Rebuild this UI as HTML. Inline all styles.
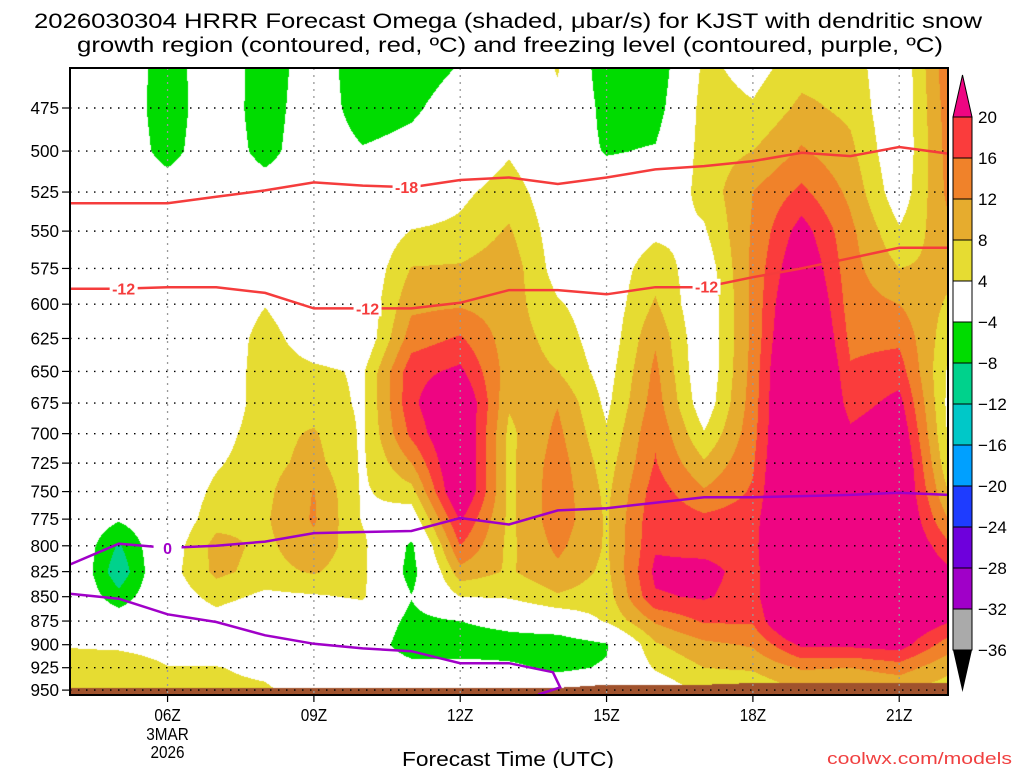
<!DOCTYPE html>
<html><head><meta charset="utf-8"><style>
html,body{margin:0;padding:0;background:#fff;width:1024px;height:768px;overflow:hidden}
#wrap{position:relative;width:1024px;height:768px}
canvas{position:absolute;left:0;top:0}
svg{position:absolute;left:0;top:0}
text{font-family:"Liberation Sans",sans-serif}
</style></head><body>
<div id="wrap">
<canvas id="cv" width="1024" height="768"></canvas>
<svg id="sv" width="1024" height="768"></svg>
</div>
<script>
// ---------- data ----------
const hours = [4,5,6,7,8,9,10,11,12,13,14,15,16,17,18,19,20,21,22];
const levels = [450,475,500,525,550,575,600,625,650,675,700,725,750,775,800,825,850,875,900,925,950];
const w04 = [0,0,0,0,0,0,0,0,0,0,0,0,0,0,1,2,1,0,3.5,7,6];
const w05 = [2,0,0,0,0,0,0,0,0,0,0,0,0,-3.5,-8.5,-11,-6.5,-1,3,7,6];
const w06 = [-8,-7,-6,-1,0,0,0,0,0,0,0,0,0,0,1,2,1,0,2,4.2,6];
const w07 = [2,0,0,0,0,0,0,0,0,0,2,3.5,5,6.5,9.5,9,5.5,2,1,4.2,5];
const w08 = [-8,-7,-6,-1,0,0,3.8,6,6.5,6.5,6.5,6.5,7,7.5,7,6.5,3,0,0,3,4.6];
const w09 = [0,0,0,0,0,0,0,1,5,6,8.5,9.5,12.2,12.5,11,8.5,3.5,0,0,0,2];
const w10 = [-8,-7,-3.5,0,0,0,0,0,3.4,3.4,3.4,3.4,3.4,3.6,5,5,4.5,1,0,0,0];
const w11 = [-7,-5,-2,0,4.2,8.2,11,14,18.5,19,17,12,6.5,1,-5,-6,-3.8,-5.5,-7,-2,0];
const w12 = [-4,-1,0,3,5,8.5,11.5,16.5,21,26,26,26,26,20.5,16,10.5,4,-4,-7,-2,0];
const w13 = [0,0,3.5,6,8.5,10.5,10,10,10,8.5,7,7,7,7,7,7.5,4.5,-2,-6.5,-3,0];
const w14 = [4.5,3,0,1,1.5,2,4.5,6.5,8,11.8,13,14,14.5,14.5,13,11,7.5,0,-7,-5,0];
const w15 = [-8,-6,-4.5,0,0.5,1,1,1,2,3,4.5,6,7,7.5,7.5,7,6,4.5,-4.5,-3.5,0];
const w16 = [-8,-6.5,-3.5,0,3,6.5,8.5,11.5,13,14,15.5,16.3,18,19,19.5,21,19.5,12.5,7.5,4.5,1];
const w17 = [5,6,6,5.5,3.5,1,0,0,0,1,4.3,8.5,12.5,17,18.5,21.5,20.5,16.5,11,8,5];
const w18 = [2,4.5,8,12,12.5,13,13,13,13.5,14,14.5,15.5,16.5,18,18.5,18,18,16.5,12.5,8.5,5];
const w19 = [6,9,12.5,17,22,25,28,30,32,32,32,32,32,32,32,32,32,30,21,12.5,8];
const w20 = [6,7,9,11,13,13.5,14,15,16.5,18,21,26,27,27,27,27,27,25,21,12,7];
const w21 = [0,0,0,1,4.5,8,12,15.2,18,21.5,24,26,26,26,26,26,26,25,22,14,8];
const w22 = [15,14,13.5,13,11,9,7.5,5.5,3.5,3,3.5,5,8,12,17,21,21,20.5,14,9,6];
const omegaCols = [w04,w05,w06,w07,w08,w09,w10,w11,w12,w13,w14,w15,w16,w17,w18,w19,w20,w21,w22];
const surfaceP = [948,948,948,948,948,948,948,948,947.5,947.5,947.5,944,944,944,942,942,942,942,942];
const dgz18P = [532,532,532,528,524,519,521,522,517.5,516,520,516,511,509,506,501,503,497.6,501.5];
const dgz12P = [589,589,588,588,592,603,603,603,599,590,590,593,588,588,581,575,568,561,561];
const frz0P = [818,798,802,800,796,788,787,786,774,780,767,765,760,755,755,754,753,751,753];
const frzLowHours = [4,5,6,7,8,9,10,11,12,13,13.9,14.05,13.6];
const frzLowP = [847,852,868,876,890,899,904,907,920,920,930,947,955];
const cbLevels = [20,16,12,8,4,-4,-8,-12,-16,-20,-24,-28,-32,-36];
const cbColors = ['#fa3c3c','#f0822a','#e6ac2e','#e6dc32','#ffffff','#00dc00','#00d28c','#00c8c8','#00a0ff','#1e3cff','#6e00dc','#a000c8','#aaaaaa'];
const xTickHours = [6,9,12,15,18,21];
const xTickLabels = ['06Z','09Z','12Z','15Z','18Z','21Z'];
const yTickLevels = [475,500,525,550,575,600,625,650,675,700,725,750,775,800,825,850,875,900,925,950];

// ---------- axes ----------
const X0=70, X1=948, Y0=68, Y1=695, H0=4, H1=22;
const xOf = h => X0 + (h-H0)*(X1-X0)/(H1-H0);
const hOf = x => H0 + (x-X0)*(H1-H0)/(X1-X0);
const yOf = p => 108 + 839.8*Math.log(p/475);
const pOf = y => 475*Math.exp((y-108)/839.8);
const MAG='#ee0582';
function colorFor(v){
  if (v>=20) return [238,5,130];
  if (v>=16) return [250,60,60];
  if (v>=12) return [240,130,42];
  if (v>=8) return [230,172,46];
  if (v>=4) return [230,220,50];
  if (v>-4) return [255,255,255];
  if (v>-8) return [0,220,0];
  if (v>-12) return [0,210,140];
  if (v>-16) return [0,200,200];
  return [0,160,255];
}
function sample(h,p){
  let c = Math.min(Math.max(h-H0,0),hours.length-1.0001);
  let r = Math.min(Math.max((p-levels[0])/25,0),levels.length-1.0001);
  const ci=Math.floor(c), ri=Math.floor(r), fc=c-ci, fr=r-ri;
  const a=omegaCols[ci][ri], b=omegaCols[ci+1][ri], d=omegaCols[ci][ri+1], e=omegaCols[ci+1][ri+1];
  return (a*(1-fc)+b*fc)*(1-fr)+(d*(1-fc)+e*fc)*fr;
}
function interpArr(arr,h){
  let c=Math.min(Math.max(h-H0,0),hours.length-1.0001);const i=Math.floor(c),f=c-i;
  return arr[i]*(1-f)+arr[i+1]*f;
}
const cv=document.getElementById('cv');const ctx=cv.getContext('2d');
const img=ctx.createImageData(X1-X0,Y1-Y0);
for(let y=Y0;y<Y1;y++){
  const p=pOf(y+0.5);
  for(let x=X0;x<X1;x++){
    const h=hOf(x+0.5);
    let col;
    if (p>interpArr(surfaceP,h)) col=[160,82,45];
    else col=colorFor(sample(h,p));
    const k=((y-Y0)*(X1-X0)+(x-X0))*4;
    img.data[k]=col[0];img.data[k+1]=col[1];img.data[k+2]=col[2];img.data[k+3]=255;
  }
}
ctx.putImageData(img,X0,Y0);

// ---------- svg ----------
const NS='http://www.w3.org/2000/svg';const sv=document.getElementById('sv');
function mk(tag,attrs,parent){const e=document.createElementNS(NS,tag);for(const k in attrs)e.setAttribute(k,attrs[k]);(parent||sv).appendChild(e);return e;}
function txt(s,attrs,parent){const e=mk('text',attrs,parent);e.textContent=s;return e;}

// grid
const grid=mk('g',{});


yTickLevels.forEach(p=>{const y=yOf(p);
  const l=mk('line',{x1:X0,x2:X1,y1:y,y2:y,stroke:'#000','stroke-width':1.4,'stroke-dasharray':'1.5 6.5'},grid);
  
  
  const t=mk('line',{x1:62,x2:X0,y1:y,y2:y,stroke:'#000','stroke-width':1.2},grid);
  
  
  const lb=txt(String(p),{x:59,y:y+6,'font-size':18,'text-anchor':'end',fill:'#000',transform:`translate(59,0) scale(0.95,1) translate(-59,0)`},grid);
  
  
});
xTickHours.forEach((h,i)=>{const x=xOf(h);
  const l=mk('line',{x1:x,x2:x,y1:Y0,y2:Y1,stroke:'#999','stroke-width':1.3,'stroke-dasharray':'2 5'},grid);
  
  
  const t=mk('line',{x1:x,x2:x,y1:Y1,y2:Y1+7,stroke:'#000','stroke-width':1.2},grid);
  
  
  const lb=txt(xTickLabels[i],{x:x,y:721,'font-size':18,'text-anchor':'middle',transform:`translate(${x},0) scale(0.85,1) translate(${-x},0)`},grid);
  
  
});
[['3MAR',740],['2026',758]].forEach(([s,y])=>{const x=xOf(6);
  const lb=txt(s,{x:x,y:y,'font-size':18,'text-anchor':'middle',transform:`translate(${x},0) scale(0.85,1) translate(${-x},0)`});
  
  
});

// isotherm lines
function pathFrom(hs,ps){return hs.map((h,i)=>(i?'L':'M')+xOf(h).toFixed(1)+','+yOf(ps[i]).toFixed(1)).join(' ');}
const l18=mk('path',{d:pathFrom(hours,dgz18P),fill:'none',stroke:'#f53c3c','stroke-width':2.5});


const l12=mk('path',{d:pathFrom(hours,dgz12P),fill:'none',stroke:'#f53c3c','stroke-width':2.5});


const f0=mk('path',{d:pathFrom(hours,frz0P),fill:'none',stroke:'#a000c8','stroke-width':2.5});


const fl=mk('path',{d:pathFrom(frzLowHours,frzLowP),fill:'none',stroke:'#a000c8','stroke-width':2.5});


function lineLabel(s,h,arr,color,name){const x=xOf(h),y=yOf(interpArr(arr,h));
  const r=mk('rect',{x:x-14,y:y-8,width:28,height:16,fill:'#fff'});
  
  
  const t=txt(s,{x:x,y:y+6,'font-size':16,'font-weight':'bold','text-anchor':'middle',fill:color});
  
  
}
lineLabel('-18',10.9,dgz18P,'#f53c3c','label-minus18');
lineLabel('-12',5.1,dgz12P,'#f53c3c','label-minus12-a');
lineLabel('-12',10.1,dgz12P,'#f53c3c','label-minus12-b');
lineLabel('-12',17.05,dgz12P,'#f53c3c','label-minus12-c');
lineLabel('0',6.0,frz0P,'#a000c8','label-zero');

// frame
const fr=mk('rect',{x:X0,y:Y0,width:X1-X0,height:Y1-Y0,fill:'none',stroke:'#000','stroke-width':2});



// colorbar
const cb=mk('g',{});


const CBX=953,CBW=19,CBTOP=117,STEP=41;
const tri=mk('polygon',{points:`${CBX},${CBTOP} ${CBX+CBW},${CBTOP} ${CBX+CBW/2},75`,fill:MAG,stroke:'#000','stroke-width':1},cb);


cbColors.forEach((c,i)=>{const r=mk('rect',{x:CBX,y:CBTOP+i*STEP,width:CBW,height:STEP,fill:c,stroke:'#000','stroke-width':1},cb);
  
  });
const tri2=mk('polygon',{points:`${CBX},${CBTOP+13*STEP} ${CBX+CBW},${CBTOP+13*STEP} ${CBX+CBW/2},692`,fill:'#000'},cb);


cbLevels.forEach((v,i)=>{const y=CBTOP+i*STEP;
  const t=txt(v<0?'\u2212'+(-v):String(v),{x:978,y:y+6,'font-size':17},cb);
  
  });

// titles
const t1=txt('2026030304 HRRR Forecast Omega (shaded, \u03bcbar/s) for KJST with dendritic snow',{x:508,y:28,'font-size':21,'text-anchor':'middle',textLength:948,lengthAdjust:'spacingAndGlyphs'});


const t2=txt('growth region (contoured, red, \u00baC) and freezing level (contoured, purple, \u00baC)',{x:510,y:52,'font-size':21,'text-anchor':'middle',textLength:866,lengthAdjust:'spacingAndGlyphs'});


const xt=txt('Forecast Time (UTC)',{x:508,y:766,'font-size':20,'text-anchor':'middle',textLength:212,lengthAdjust:'spacingAndGlyphs'});


const cr=txt('coolwx.com/models',{x:1012,y:764,'font-size':17,'text-anchor':'end',fill:'#f04040',textLength:185,lengthAdjust:'spacingAndGlyphs'});


</script>
</body></html>
